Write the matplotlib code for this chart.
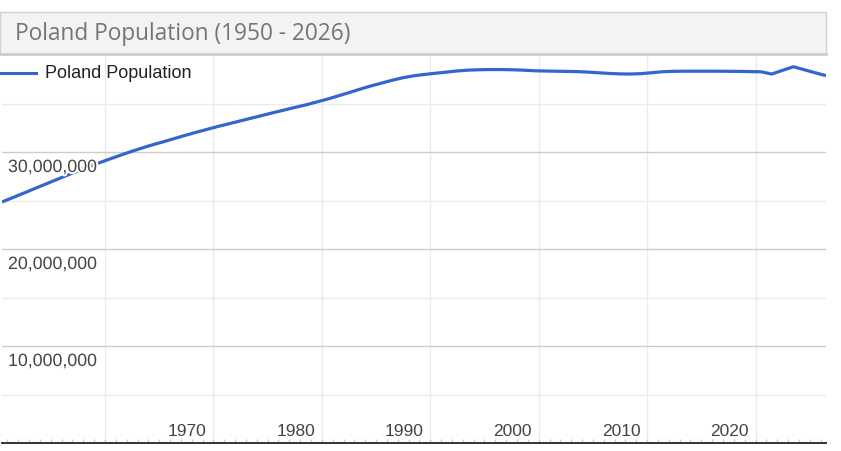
import matplotlib
matplotlib.use("Agg")
import matplotlib.pyplot as plt
import matplotlib.patheffects as pe
from matplotlib.patches import Rectangle
from matplotlib.lines import Line2D
import numpy as np

# ---------------- data ----------------
years = list(range(1950, 2027))
population = [
    24.85, 25.30, 25.76, 26.22, 26.68, 27.14, 27.60, 28.05, 28.48, 28.90,  # 1950-59
    29.30, 29.70, 30.08, 30.44, 30.78, 31.09, 31.42, 31.75, 32.06, 32.36,  # 1960-69
    32.66, 32.93, 33.21, 33.49, 33.77, 34.05, 34.32, 34.59, 34.85, 35.15,  # 1970-79
    35.45, 35.78, 36.12, 36.47, 36.80, 37.10, 37.40, 37.66, 37.86, 38.00,  # 1980-89
    38.12, 38.24, 38.36, 38.44, 38.48, 38.50, 38.50, 38.48, 38.44, 38.38,  # 1990-99
    38.35, 38.33, 38.31, 38.29, 38.24, 38.17, 38.10, 38.05, 38.04, 38.08,  # 2000-09
    38.18, 38.28, 38.32, 38.33, 38.33, 38.33, 38.33, 38.32, 38.31, 38.29,  # 2010-19
    38.27, 38.04, 38.42, 38.79, 38.48, 38.17, 37.87,                      # 2020-26
]
population = [p * 1e6 for p in population]

title = "Poland Population (1950 - 2026)"
series_name = "Poland Population"
grid_decades = [1960, 1970, 1980, 1990, 2000, 2010, 2020]
x_label_decades = [1970, 1980, 1990, 2000, 2010, 2020]
x_labels = ["1970", "1980", "1990", "2000", "2010", "2020"]
y_major = [10e6, 20e6, 30e6]
y_labels = ["10,000,000", "20,000,000", "30,000,000"]
y_minor = [5e6, 15e6, 25e6, 35e6]

# ---------------- layout ----------------
W, H = 841, 452
fig = plt.figure(figsize=(W / 100, H / 100), dpi=100)
fig.patch.set_facecolor("white")

def fx(px):
    return px / W

def fy(py):
    return 1 - py / H

ax = fig.add_axes([fx(2), fy(444), fx(826) - fx(2), fy(56) - fy(444)])
ax.set_xlim(1950, 2026)
ax.set_ylim(0, 40e6)
for s in ax.spines.values():
    s.set_visible(False)
ax.set_xticks([])
ax.set_yticks([])

px_per_year = (826 - 2) / 76.0
px_per_val = (444 - 56) / 40e6

# gridlines
for v in y_minor:
    ax.axhline(v, color="#ebebeb", lw=1, zorder=1)
for d in grid_decades:
    ax.axvline(d - 0.5, color="#ebebeb", lw=1, zorder=1)
for v in y_major:
    ax.axhline(v, color="#cccccc", lw=1, zorder=1.5)

# small yearly ticks above baseline
tick_pos = np.arange(1950.5, 2026, 1.0)
ax.vlines(tick_pos, 0, 4 / px_per_val, color="#cccccc", lw=1, zorder=1.6)

# baseline
ax.axhline(0, color="#333333", lw=1.4, zorder=2, clip_on=False)

# series
ax.plot(years, population, color="#3366cc", lw=2.3, zorder=3,
        solid_joinstyle="round", solid_capstyle="butt")

# y labels (inside, below gridline, with white halo)
halo = [pe.withStroke(linewidth=3, foreground="white")]
for v, lab in zip(y_major, y_labels):
    ax.text(1950 + 6 / px_per_year, v - 20 / px_per_val, lab,
            ha="left", va="baseline", fontsize=12.8, color="#444444",
            family="Liberation Sans", zorder=5, path_effects=halo)

# x labels
for d, lab in zip(x_label_decades, x_labels):
    ax.text(d - 0.5 - 6.8 / px_per_year, 8 / px_per_val, lab,
            ha="right", va="baseline", fontsize=12.5, color="#444444",
            family="Liberation Sans", zorder=5)

# title box
fig.add_artist(Rectangle((fx(0), fy(55)), fx(826) - fx(0), fy(13) - fy(55),
                         transform=fig.transFigure, facecolor="#f3f3f3",
                         edgecolor="#d0d0d0", lw=1, zorder=10))
fig.add_artist(Line2D([fx(0), fx(826)], [fy(55), fy(55)], color="#cccccc",
                      lw=2, zorder=11))
fig.text(fx(15), fy(34.5), title, ha="left", va="center", fontsize=16.3,
         color="#757575", family="Open Sans", zorder=12)

# legend
fig.add_artist(Line2D([fx(0), fx(36)], [fy(74), fy(74)], color="#3366cc",
                      lw=2.2, zorder=12))
fig.text(fx(45), fy(74), series_name, ha="left", va="center", fontsize=13,
         color="#222222", family="Liberation Sans", zorder=12)

fig.savefig("out.png", dpi=100)
